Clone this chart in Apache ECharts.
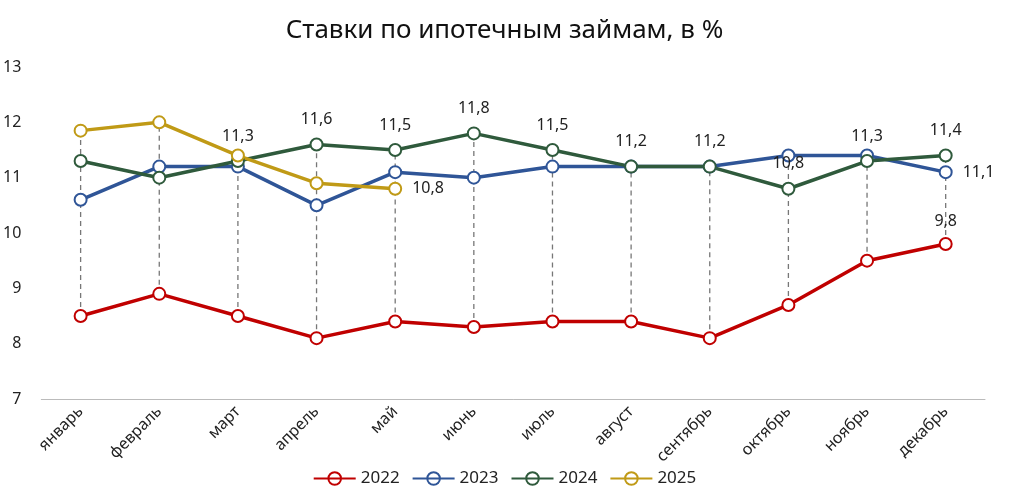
<!DOCTYPE html>
<html><head><meta charset="utf-8">
<script src="https://cdn.jsdelivr.net/npm/echarts@6/dist/echarts.min.js"></script>
<style>html,body{margin:0;padding:0;background:#fff}#c{width:1009px;height:500px}</style>
</head><body><div id="c"></div>
<script>
const months=['январь','февраль','март','апрель','май','июнь','июль','август','сентябрь','октябрь','ноябрь','декабрь'];
const s2022=[8.5,8.9,8.5,8.1,8.4,8.3,8.4,8.4,8.1,8.7,9.5,9.8];
const s2023=[10.6,11.2,11.2,10.5,11.1,11.0,11.2,11.2,11.2,11.4,11.4,11.1];
const s2024=[11.3,11.0,11.3,11.6,11.5,11.8,11.5,11.2,11.2,10.8,11.3,11.4];
const s2025=[11.85,12.0,11.4,10.9,10.8];
const yTicks=[7,8,9,10,11,12,13];
const font='Noto Sans';
const fmt=v=>String(v).replace('.',',');
const ranges=months.map((m,i)=>{const v=[s2022[i],s2023[i],s2024[i]];if(i<s2025.length)v.push(s2025[i]);return [i,Math.min(...v),Math.max(...v)];});
function mk(name,data,color,labelFn){
 return {name,type:'line',data:data.map((v,i)=>{const o={value:v};const l=labelFn&&labelFn(i);if(l)o.label=l;return o;}),
 symbol:'circle',symbolSize:12,itemStyle:{color:'#fff',borderColor:color,borderWidth:2},
 lineStyle:{color,width:3.5},z:3,label:{show:false,fontFamily:font,fontSize:16,color:'#222',formatter:p=>fmt(p.value)}};
}
const c=echarts.init(document.getElementById('c'));
c.setOption({
 title:{text:'Ставки по ипотечным займам, в %',left:'center',top:13,textStyle:{fontFamily:font,fontWeight:'normal',fontSize:26,color:'#111'}},
 grid:{left:38,right:24,top:67,bottom:101},
 legend:{bottom:8,left:'center',itemWidth:42,itemGap:12,textStyle:{fontFamily:font,fontSize:17,color:'#222'},data:['2022','2023','2024','2025'],
  icon:'path://M0,5 L40,5 M20,5 m-6,0 a6,6 0 1,0 12,0 a6,6 0 1,0 -12,0'},
 xAxis:{type:'category',data:months,boundaryGap:true,axisLine:{lineStyle:{color:'#bbb'}},axisTick:{show:false},
  axisLabel:{rotate:45,fontFamily:font,fontSize:16,color:'#222',margin:10,interval:0}},
 yAxis:{type:'value',min:7,max:13,interval:1,splitLine:{show:false},axisLine:{show:false},axisTick:{show:false},
  axisLabel:{fontFamily:font,fontSize:16,color:'#222',margin:20}},
 series:[
  {type:'custom',data:ranges,z:1,silent:true,renderItem:(p,api)=>{const a=api.coord([api.value(0),api.value(1)]);const b=api.coord([api.value(0),api.value(2)]);
   return {type:'line',shape:{x1:a[0],y1:a[1],x2:b[0],y2:b[1]},style:{stroke:'#777',lineWidth:1.3,lineDash:[5,4]}};}},
  mk('2022',s2022,'#C00000',i=>i==11?{show:true,position:'top',distance:8}:null),
  mk('2023',s2023,'#2F5597',i=>i==11?{show:true,position:'right',distance:10}:null),
  mk('2024',s2024,'#2F5A3C',i=>i>=2?{show:true,position:'top',distance:10}:null),
  mk('2025',s2025,'#C09A16',i=>i==4?{show:true,position:'right',distance:10}:null)
 ]
});
</script></body></html>
